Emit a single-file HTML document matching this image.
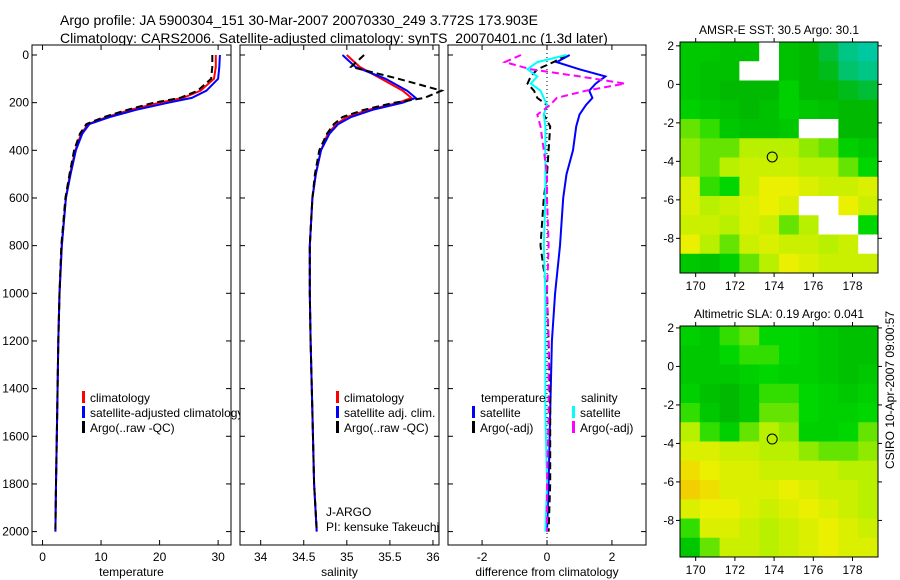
<!DOCTYPE html>
<html><head><meta charset="utf-8"><style>
body{margin:0;background:#fff}
svg{display:block;font-family:"Liberation Sans",sans-serif}
text{fill:#000}
</style></head><body>
<svg id="s" width="900" height="580" viewBox="0 0 900 580">
<text x="60" y="25" font-size="14">Argo profile: JA 5900304_151 30-Mar-2007 20070330_249 3.772S 173.903E</text>
<text x="60" y="43" font-size="14">Climatology: CARS2006. Satellite-adjusted climatology: synTS_20070401.nc (1.3d later)</text>
<text transform="translate(894,469) rotate(-90)" font-size="12">CSIRO 10-Apr-2007 09:00:57</text>
</svg>
<script>
// ---------- data ----------
const depths=[0,50,100,150,180,200,230,260,290,330,400,500,600,800,1000,1200,1500,1800,2000];
const tempClim=[29.6,29.6,29.3,27,24,20,15,11,7.8,6.6,5.6,4.7,4.0,3.3,2.9,2.7,2.5,2.3,2.2];
const tempSat=[30.3,30.2,30.0,28,25.5,21.5,16,11.5,8,6.8,5.7,4.8,4.0,3.3,2.9,2.7,2.5,2.3,2.2];
const tempArgo=[29.0,29.0,28.8,26.5,23.5,19,14.5,10.5,7.5,6.4,5.4,4.6,3.9,3.2,2.9,2.7,2.5,2.3,2.2];
const salClim=[35.0,35.15,35.4,35.65,35.75,35.6,35.25,35.0,34.88,34.78,34.7,34.64,34.6,34.57,34.57,34.58,34.6,34.62,34.65];
const salSat=[34.95,35.1,35.45,35.7,35.8,35.65,35.3,35.05,34.9,34.8,34.7,34.64,34.6,34.57,34.57,34.58,34.6,34.62,34.65];
const salArgo=[35.2,35.05,35.6,36.1,35.9,35.55,35.2,34.95,34.85,34.77,34.68,34.63,34.6,34.57,34.57,34.58,34.6,34.62,34.65];
const diffDepths=[0,30,60,90,120,150,180,210,250,300,400,500,600,800,1000,1200,1500,1800,2000];
const dTempSat=[0.7,0.3,1.0,1.8,1.5,1.3,1.4,1.2,1.0,0.9,0.8,0.6,0.5,0.4,0.25,0.15,0.1,0.05,0.0];
const dTempArgo=[0.6,0.2,-0.3,-0.5,-0.6,-0.4,-0.3,0.0,-0.1,0.1,0.05,0.0,-0.1,-0.2,0.0,0.05,0.1,0.1,0.05];
const dSalSat=[0.6,-0.3,-0.6,-0.3,-0.5,-0.2,-0.1,0.0,-0.1,-0.05,-0.05,-0.05,-0.05,-0.1,-0.05,-0.05,-0.05,0.0,-0.05];
const dSalArgo=[-0.8,-1.3,-0.5,1.0,2.4,1.2,0.3,0.1,-0.3,-0.2,-0.1,0.0,0.0,0.05,0.0,0.05,0.05,0.0,0.0];
const depthTicks=[0,200,400,600,800,1000,1200,1400,1600,1800,2000];
const tempTicks=[0,10,20,30];
const salTicks=[34,34.5,35,35.5,36];
const diffTicks=[-2,0,2];
const lonTicks=[170,172,174,176,178];
const latTicks=[2,0,-2,-4,-6,-8];
const sstGrid=[
[.4,.4,.35,.35,-1,.35,.3,.2,.05,0],
[.4,.35,.35,-1,-1,.35,.3,.25,.1,.05],
[.4,.35,.3,.3,.3,.45,.3,.3,.25,.2],
[.45,.4,.35,.3,.35,.45,.4,.35,.3,.3],
[.6,.55,.4,.35,.35,.4,-1,-1,.3,.3],
[.65,.6,.6,.7,.7,.7,.65,.6,.45,.4],
[.65,.6,.7,.75,.75,.75,.7,.7,.6,.5],
[.8,.55,.5,.75,.85,.85,.8,.75,.75,.8],
[.8,.7,.75,.8,.85,.8,-1,-1,.85,.75],
[.75,.75,.7,.8,.75,.6,.7,-1,-1,.5],
[.85,.7,.6,.75,.8,.75,.75,.7,.75,-1],
[.4,.35,.45,.6,.7,.85,.8,.75,.75,.75]];
const slaGrid=[
[.45,.4,.55,.6,.5,.5,.45,.4,.35,.35],
[.4,.4,.5,.55,.55,.5,.45,.4,.35,.35],
[.4,.4,.4,.45,.5,.45,.45,.4,.35,.4],
[.45,.35,.3,.4,.55,.55,.5,.45,.4,.45],
[.55,.4,.3,.4,.6,.6,.5,.45,.45,.5],
[.7,.55,.45,.6,.7,.65,.45,.45,.5,.6],
[.8,.8,.75,.75,.7,.7,.65,.6,.6,.65],
[.9,.85,.8,.8,.75,.75,.75,.75,.7,.7],
[.95,.9,.8,.8,.8,.85,.8,.75,.75,.7],
[.8,.85,.85,.8,.75,.8,.85,.8,.75,.7],
[.55,.8,.8,.75,.7,.75,.8,.85,.8,.75],
[.4,.6,.75,.75,.7,.75,.8,.85,.8,.8]];
const argoLon=173.903, argoLat=-3.772;

// ---------- helpers ----------
const S=document.getElementById('s'),NS='http://www.w3.org/2000/svg';
function mk(tag,at,parent){const e=document.createElementNS(NS,tag);for(const k in at)e.setAttribute(k,at[k]);(parent||S).appendChild(e);return e;}
const Y0=55,YK=0.2383;
const yD=d=>Y0+d*YK;
function panel(name,x0,x1,xmin,xmax,ticks,xlabel,showY){
  const xs=v=>x0+(v-xmin)/(xmax-xmin)*(x1-x0);
  const r=mk('rect',{x:x0,y:45,width:x1-x0,height:500,fill:'#fff',stroke:'#000','stroke-width':1});
  
  
  ticks.forEach(t=>{const x=xs(t);
    mk('line',{x1:x,x2:x,y1:545,y2:540,stroke:'#000'});mk('line',{x1:x,x2:x,y1:45,y2:50,stroke:'#000'});
    const tx=mk('text',{x:x,y:561,'font-size':12,'text-anchor':'middle'});tx.textContent=t;
    
    });
  depthTicks.forEach(d=>{const y=yD(d);
    mk('line',{x1:x0,x2:x0+5,y1:y,y2:y,stroke:'#000'});mk('line',{x1:x1,x2:x1-5,y1:y,y2:y,stroke:'#000'});
    if(showY){const tx=mk('text',{x:x0-3,y:y+4,'font-size':12,'text-anchor':'end'});tx.textContent=d;
      
      }});
  const xl=mk('text',{x:(x0+x1)/2,y:576,'font-size':12,'text-anchor':'middle'});xl.textContent=xlabel;
  
  
  return xs;
}
function line(xs,vals,ds,color,dash,name,w){
  const p=vals.map((v,i)=>xs(v).toFixed(1)+','+yD(ds[i]).toFixed(1)).join(' ');
  const e=mk('polyline',{points:p,fill:'none',stroke:color,'stroke-width':w||2,'stroke-dasharray':dash||'none'});
  
  
}
function legend(x,y,items,name){
  items.forEach((it,i)=>{const yy=y+i*15;
    mk('rect',{x:x,y:yy-11,width:3,height:12,fill:it[1]});
    const t=mk('text',{x:x+8,y:yy,'font-size':12});t.textContent=it[0];
    
    });
}
// panel 1
const xT=panel('temperature',32,231,-1.8,32.2,tempTicks,'temperature',true);
line(xT,tempClim,depths,'#f00',null,'temperature-climatology-line');
line(xT,tempSat,depths,'#00f',null,'temperature-satellite-line');
line(xT,tempArgo,depths.map(d=>Math.min(d,1990)),'#000','7,4','temperature-argo-line');
legend(82,402,[['climatology','#f00'],['satellite-adjusted climatology','#00f'],['Argo(..raw -QC)','#000']],'temperature-legend');
// panel 2
const xS=panel('salinity',240,439,33.76,36.07,salTicks,'salinity',false);
line(xS,salClim,depths,'#f00',null,'salinity-climatology-line');
line(xS,salSat,depths,'#00f',null,'salinity-satellite-line');
line(xS,salArgo,depths.map(d=>Math.min(d,1990)),'#000','7,4','salinity-argo-line');
legend(336,402,[['climatology','#f00'],['satellite adj. clim.','#00f'],['Argo(..raw -QC)','#000']],'salinity-legend');
[['J-ARGO',516],['PI: kensuke Takeuchi',531]].forEach(a=>{const t=mk('text',{x:326,y:a[1],'font-size':12});t.textContent=a[0];
  
  });
// panel 3
const xD=panel('difference',448,646,-3.05,3.05,diffTicks,'difference from climatology',false);
mk('line',{x1:xD(0),x2:xD(0),y1:45,y2:545,stroke:'#000','stroke-dasharray':'1,3'});
line(xD,dTempSat,diffDepths,'#00f',null,'diff-temperature-satellite-line');
line(xD,dTempArgo,diffDepths,'#000','7,4','diff-temperature-argo-line');
line(xD,dSalSat,diffDepths,'#0ff',null,'diff-salinity-satellite-line');
line(xD,dSalArgo,diffDepths,'#f0f','7,4','diff-salinity-argo-line');
[['temperature',481,402],['salinity',581,402]].forEach(a=>{const t=mk('text',{x:a[1],y:a[2],'font-size':12});t.textContent=a[0];
  
  });
legend(472,417,[['satellite','#00f'],['Argo(-adj)','#000']],'diff-temperature-legend');
legend(572,417,[['satellite','#0ff'],['Argo(-adj)','#f0f']],'diff-salinity-legend');
// maps
function cmap(v){
  if(v<0)return '#fff';
  const stops=[[0,[0,200,160]],[0.3,[0,185,0]],[0.5,[0,215,0]],[0.6,[100,228,0]],[0.7,[185,240,0]],[0.85,[235,240,0]],[1,[245,190,0]]];
  for(let i=1;i<stops.length;i++){if(v<=stops[i][0]){const a=stops[i-1],b=stops[i],f=(v-a[0])/(b[0]-a[0]);
    return 'rgb('+a[1].map((c,k)=>Math.round(c+(b[1][k]-c)*f)).join(',')+')';}}
  return 'rgb(245,190,0)';
}
function map(name,x0,y0,grid,latTop,title){
  const x1=878,y1=y0+231,lonMin=169.2,lonMax=179.3,latBot=latTop-12;
  const xs=v=>x0+(v-lonMin)/(lonMax-lonMin)*(x1-x0), ys=v=>y0+(latTop-v)/(latTop-latBot)*(y1-y0);
  const rows=grid.length,cols=grid[0].length,cw=(x1-x0)/cols,ch=(y1-y0)/rows;
  grid.forEach((row,r)=>row.forEach((v,c)=>{
    const e=mk('rect',{x:x0+c*cw,y:y0+r*ch,width:cw+0.5,height:ch+0.5,fill:cmap(v)});
    
    }));
  const fr=mk('rect',{x:x0,y:y0,width:x1-x0,height:y1-y0,fill:'none',stroke:'#000'});
  
  
  lonTicks.forEach(t=>{const x=xs(t);mk('line',{x1:x,x2:x,y1:y1,y2:y1+4,stroke:'#000'});mk('line',{x1:x,x2:x,y1:y0,y2:y0-4,stroke:'#000'});
    const tx=mk('text',{x:x,y:y1+17,'font-size':12,'text-anchor':'middle'});tx.textContent=t;
    
    });
  latTicks.forEach(t=>{const y=ys(t);if(y<y0-1||y>y1)return;mk('line',{x1:x0,x2:x0-4,y1:y,y2:y,stroke:'#000'});mk('line',{x1:x1,x2:x1+4,y1:y,y2:y,stroke:'#000'});
    const tx=mk('text',{x:x0-6,y:y+4,'font-size':12,'text-anchor':'end'});tx.textContent=t;
    
    });
  const c=mk('circle',{cx:xs(argoLon),cy:ys(argoLat),r:5,fill:'none',stroke:'#000'});
  
  
  const t=mk('text',{x:(x0+x1)/2,y:y0-8,'font-size':12,'text-anchor':'middle'});t.textContent=title;
  
  
}
map('sst-map',680,42,sstGrid,2.2,'AMSR-E SST: 30.5 Argo: 30.1');
map('sla-map',680,326,slaGrid,2.1,'Altimetric SLA: 0.19 Argo: 0.041');
</script>
</body></html>
